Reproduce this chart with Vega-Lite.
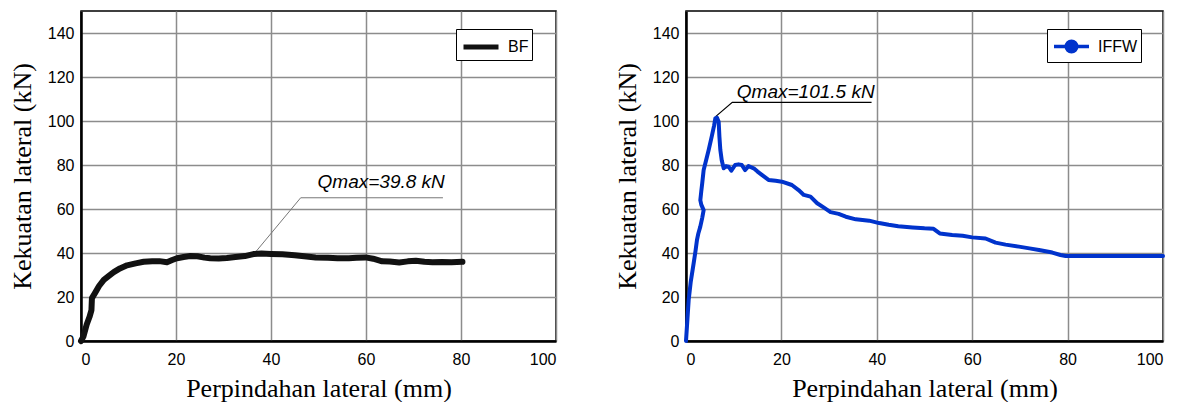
{
  "$schema": "https://vega.github.io/schema/vega-lite/v6.json",
  "background": "white",
  "padding": {"left": 8, "top": 10, "right": 0, "bottom": 0},
  "bounds": "flush",
  "spacing": 130,
  "datasets": {
    "bf": [
      {"series": "BF", "i": 0, "x": 0, "y": 0},
      {"series": "BF", "i": 1, "x": 0.5, "y": 2},
      {"series": "BF", "i": 2, "x": 1.2, "y": 7.5},
      {"series": "BF", "i": 3, "x": 1.8, "y": 11},
      {"series": "BF", "i": 4, "x": 2.2, "y": 14},
      {"series": "BF", "i": 5, "x": 2.3, "y": 19.5},
      {"series": "BF", "i": 6, "x": 3.0, "y": 22},
      {"series": "BF", "i": 7, "x": 3.8, "y": 25},
      {"series": "BF", "i": 8, "x": 4.8, "y": 27.8},
      {"series": "BF", "i": 9, "x": 5.8, "y": 29.5},
      {"series": "BF", "i": 10, "x": 6.9, "y": 31.3},
      {"series": "BF", "i": 11, "x": 8.2, "y": 33},
      {"series": "BF", "i": 12, "x": 9.7, "y": 34.4},
      {"series": "BF", "i": 13, "x": 11.5, "y": 35.3},
      {"series": "BF", "i": 14, "x": 13.2, "y": 36},
      {"series": "BF", "i": 15, "x": 15, "y": 36.3},
      {"series": "BF", "i": 16, "x": 16.5, "y": 36.3},
      {"series": "BF", "i": 17, "x": 18.1, "y": 35.8},
      {"series": "BF", "i": 18, "x": 19.2, "y": 36.8},
      {"series": "BF", "i": 19, "x": 20.2, "y": 37.6},
      {"series": "BF", "i": 20, "x": 21.6, "y": 38.2},
      {"series": "BF", "i": 21, "x": 23, "y": 38.6},
      {"series": "BF", "i": 22, "x": 24.5, "y": 38.5},
      {"series": "BF", "i": 23, "x": 26, "y": 37.9},
      {"series": "BF", "i": 24, "x": 27.2, "y": 37.6},
      {"series": "BF", "i": 25, "x": 29, "y": 37.5},
      {"series": "BF", "i": 26, "x": 30.7, "y": 37.7},
      {"series": "BF", "i": 27, "x": 32.5, "y": 38.2},
      {"series": "BF", "i": 28, "x": 34.5, "y": 38.6},
      {"series": "BF", "i": 29, "x": 36.3, "y": 39.5},
      {"series": "BF", "i": 30, "x": 38, "y": 39.8},
      {"series": "BF", "i": 31, "x": 40, "y": 39.6},
      {"series": "BF", "i": 32, "x": 42.4, "y": 39.4},
      {"series": "BF", "i": 33, "x": 45, "y": 39},
      {"series": "BF", "i": 34, "x": 47, "y": 38.5},
      {"series": "BF", "i": 35, "x": 49.4, "y": 38},
      {"series": "BF", "i": 36, "x": 52, "y": 37.8},
      {"series": "BF", "i": 37, "x": 54, "y": 37.6},
      {"series": "BF", "i": 38, "x": 56.4, "y": 37.6},
      {"series": "BF", "i": 39, "x": 58, "y": 37.8},
      {"series": "BF", "i": 40, "x": 59.9, "y": 38},
      {"series": "BF", "i": 41, "x": 61.5, "y": 37.4},
      {"series": "BF", "i": 42, "x": 63.4, "y": 36.2},
      {"series": "BF", "i": 43, "x": 65, "y": 36.1},
      {"series": "BF", "i": 44, "x": 67, "y": 35.7},
      {"series": "BF", "i": 45, "x": 68.8, "y": 36.2},
      {"series": "BF", "i": 46, "x": 70.5, "y": 36.5},
      {"series": "BF", "i": 47, "x": 72.3, "y": 36},
      {"series": "BF", "i": 48, "x": 74, "y": 35.8},
      {"series": "BF", "i": 49, "x": 76, "y": 35.9},
      {"series": "BF", "i": 50, "x": 78, "y": 35.8},
      {"series": "BF", "i": 51, "x": 80.3, "y": 36}
    ],
    "iffw": [
      {"series": "IFFW", "i": 0, "x": 0, "y": 0},
      {"series": "IFFW", "i": 1, "x": 0.3, "y": 10},
      {"series": "IFFW", "i": 2, "x": 0.56, "y": 18.6},
      {"series": "IFFW", "i": 3, "x": 1.0, "y": 27},
      {"series": "IFFW", "i": 4, "x": 1.6, "y": 35.3},
      {"series": "IFFW", "i": 5, "x": 2.0, "y": 41},
      {"series": "IFFW", "i": 6, "x": 2.3, "y": 45.9},
      {"series": "IFFW", "i": 7, "x": 2.6, "y": 49},
      {"series": "IFFW", "i": 8, "x": 3.0, "y": 52},
      {"series": "IFFW", "i": 9, "x": 3.4, "y": 56},
      {"series": "IFFW", "i": 10, "x": 3.7, "y": 59.5},
      {"series": "IFFW", "i": 11, "x": 3.2, "y": 62},
      {"series": "IFFW", "i": 12, "x": 3.0, "y": 64},
      {"series": "IFFW", "i": 13, "x": 3.2, "y": 68},
      {"series": "IFFW", "i": 14, "x": 3.4, "y": 71.7},
      {"series": "IFFW", "i": 15, "x": 3.7, "y": 77.7},
      {"series": "IFFW", "i": 16, "x": 4.2, "y": 82},
      {"series": "IFFW", "i": 17, "x": 4.75, "y": 86.8},
      {"series": "IFFW", "i": 18, "x": 5.4, "y": 93},
      {"series": "IFFW", "i": 19, "x": 5.9, "y": 98},
      {"series": "IFFW", "i": 20, "x": 6.15, "y": 101.2},
      {"series": "IFFW", "i": 21, "x": 6.5, "y": 101.5},
      {"series": "IFFW", "i": 22, "x": 6.85, "y": 99.7},
      {"series": "IFFW", "i": 23, "x": 7.0, "y": 93},
      {"series": "IFFW", "i": 24, "x": 7.2, "y": 86.8},
      {"series": "IFFW", "i": 25, "x": 7.5, "y": 82},
      {"series": "IFFW", "i": 26, "x": 7.9, "y": 78.5},
      {"series": "IFFW", "i": 27, "x": 8.4, "y": 79.5},
      {"series": "IFFW", "i": 28, "x": 8.95, "y": 79.2},
      {"series": "IFFW", "i": 29, "x": 9.5, "y": 77.4},
      {"series": "IFFW", "i": 30, "x": 10.3, "y": 80},
      {"series": "IFFW", "i": 31, "x": 11, "y": 80.3},
      {"series": "IFFW", "i": 32, "x": 11.7, "y": 80},
      {"series": "IFFW", "i": 33, "x": 12.4, "y": 77.7},
      {"series": "IFFW", "i": 34, "x": 13.1, "y": 79.5},
      {"series": "IFFW", "i": 35, "x": 14.2, "y": 78.5},
      {"series": "IFFW", "i": 36, "x": 15, "y": 77},
      {"series": "IFFW", "i": 37, "x": 15.9, "y": 75.5},
      {"series": "IFFW", "i": 38, "x": 17.3, "y": 73.2},
      {"series": "IFFW", "i": 39, "x": 18.8, "y": 72.8},
      {"series": "IFFW", "i": 40, "x": 20.1, "y": 72.4},
      {"series": "IFFW", "i": 41, "x": 22.2, "y": 70.9},
      {"series": "IFFW", "i": 42, "x": 23.6, "y": 68.6},
      {"series": "IFFW", "i": 43, "x": 24.7, "y": 66.4},
      {"series": "IFFW", "i": 44, "x": 26.1, "y": 65.6},
      {"series": "IFFW", "i": 45, "x": 27.5, "y": 62.6},
      {"series": "IFFW", "i": 46, "x": 29, "y": 60.5},
      {"series": "IFFW", "i": 47, "x": 30.3, "y": 58.6},
      {"series": "IFFW", "i": 48, "x": 32, "y": 57.8},
      {"series": "IFFW", "i": 49, "x": 33.5, "y": 56.5},
      {"series": "IFFW", "i": 50, "x": 35.6, "y": 55.3},
      {"series": "IFFW", "i": 51, "x": 38.4, "y": 54.7},
      {"series": "IFFW", "i": 52, "x": 40.5, "y": 53.6},
      {"series": "IFFW", "i": 53, "x": 42.5, "y": 52.8},
      {"series": "IFFW", "i": 54, "x": 44.5, "y": 52.2},
      {"series": "IFFW", "i": 55, "x": 47.5, "y": 51.6},
      {"series": "IFFW", "i": 56, "x": 50, "y": 51.2},
      {"series": "IFFW", "i": 57, "x": 51.9, "y": 51},
      {"series": "IFFW", "i": 58, "x": 53.2, "y": 48.9},
      {"series": "IFFW", "i": 59, "x": 55.8, "y": 48.2},
      {"series": "IFFW", "i": 60, "x": 58, "y": 47.8},
      {"series": "IFFW", "i": 61, "x": 60, "y": 47.1},
      {"series": "IFFW", "i": 62, "x": 62.8, "y": 46.6},
      {"series": "IFFW", "i": 63, "x": 64.9, "y": 44.7},
      {"series": "IFFW", "i": 64, "x": 67, "y": 43.8},
      {"series": "IFFW", "i": 65, "x": 69.8, "y": 42.9},
      {"series": "IFFW", "i": 66, "x": 72, "y": 42.1},
      {"series": "IFFW", "i": 67, "x": 74, "y": 41.4},
      {"series": "IFFW", "i": 68, "x": 76.8, "y": 40.2},
      {"series": "IFFW", "i": 69, "x": 78.5, "y": 39.1},
      {"series": "IFFW", "i": 70, "x": 79.6, "y": 38.6},
      {"series": "IFFW", "i": 71, "x": 100, "y": 38.6}
    ],
    "bfLeader": [
      {"i": 0, "x": 36.5, "y": 39.8},
      {"i": 1, "x": 46.25, "y": 65.1},
      {"i": 2, "x": 76.2, "y": 65.1}
    ],
    "iffwLeader": [
      {"i": 0, "x": 6.2, "y": 102},
      {"i": 1, "x": 9.7, "y": 108.5},
      {"i": 2, "x": 38.9, "y": 108.5}
    ],
    "bfLabel": [{"x": 63.2, "y": 72.3, "label": "Qmax=39.8 kN"}],
    "iffwLabel": [{"x": 25.1, "y": 113.3, "label": "Qmax=101.5 kN"}]
  },
  "config": {
    "font": "Liberation Sans",
    "view": {"stroke": "black", "strokeWidth": 1.5},
    "axis": {
      "grid": true,
      "gridColor": "#8c8c8c",
      "gridWidth": 1.5,
      "domainColor": "black",
      "domainWidth": 2.5,
      "ticks": false,
      "labelFont": "Liberation Sans",
      "labelFontSize": 16,
      "labelColor": "black",
      "titleFont": "Liberation Serif",
      "titleFontSize": 26,
      "titleFontWeight": "normal",
      "titleColor": "black"
    },
    "axisX": {"labelPadding": 10, "titlePadding": 8},
    "axisY": {"labelPadding": 7, "titlePadding": 12},
    "legend": {
      "strokeColor": "black",
      "fillColor": "white",
      "padding": 3,
      "cornerRadius": 0,
      "labelFont": "Liberation Sans",
      "labelFontSize": 16,
      "labelColor": "black",
      "labelOffset": 12,
      "symbolOffset": 7,
      "title": null
    }
  },
  "resolve": {"scale": {"color": "independent"}, "legend": {"color": "independent"}},
  "hconcat": [
    {
      "width": 475,
      "height": 330,
      "encoding": {
        "x": {"field": "x", "type": "quantitative", "scale": {"domain": [0, 100], "nice": false}, "axis": {"values": [0, 20, 40, 60, 80, 100], "title": "Perpindahan lateral (mm)"}},
        "y": {"field": "y", "type": "quantitative", "scale": {"domain": [0, 150], "nice": false}, "axis": {"values": [0, 20, 40, 60, 80, 100, 120, 140], "title": "Kekuatan lateral (kN)"}},
        "order": {"field": "i", "type": "quantitative"}
      },
      "layer": [
        {
          "data": {"name": "bfLeader"},
          "mark": {"type": "line", "stroke": "#777777", "strokeWidth": 1}
        },
        {
          "data": {"name": "bf"},
          "mark": {"type": "line", "strokeWidth": 6, "strokeCap": "round", "strokeJoin": "round"},
          "encoding": {
            "color": {"field": "series", "type": "nominal", "scale": {"domain": ["BF"], "range": ["#111111"]},
              "legend": {"orient": "none", "legendX": 375, "legendY": 18, "title": null, "symbolType": "M-1.4,0H1.4", "symbolSize": 625, "symbolStrokeWidth": 5, "symbolStrokeColor": "#111111"}}
          }
        },
        {
          "data": {"name": "bfLabel"},
          "mark": {"type": "text", "font": "Liberation Sans", "fontStyle": "italic", "fontSize": 19, "align": "center", "baseline": "middle", "color": "black"},
          "encoding": {"text": {"field": "label"}}
        }
      ]
    },
    {
      "width": 477,
      "height": 330,
      "encoding": {
        "x": {"field": "x", "type": "quantitative", "scale": {"domain": [0, 100], "nice": false}, "axis": {"values": [0, 20, 40, 60, 80, 100], "title": "Perpindahan lateral (mm)"}},
        "y": {"field": "y", "type": "quantitative", "scale": {"domain": [0, 150], "nice": false}, "axis": {"values": [0, 20, 40, 60, 80, 100, 120, 140], "title": "Kekuatan lateral (kN)"}},
        "order": {"field": "i", "type": "quantitative"}
      },
      "layer": [
        {
          "data": {"name": "iffwLeader"},
          "mark": {"type": "line", "stroke": "black", "strokeWidth": 1.2}
        },
        {
          "data": {"name": "iffw"},
          "mark": {"type": "line", "strokeWidth": 4, "strokeCap": "round", "strokeJoin": "round"},
          "encoding": {
            "color": {"field": "series", "type": "nominal", "scale": {"domain": ["IFFW"], "range": ["#0033cc"]},
              "legend": {"orient": "none", "legendX": 361, "legendY": 18, "title": null, "symbolType": "M-1.4,0H1.4M0.42,0A0.42,0.42,0,1,1,-0.42,0A0.42,0.42,0,1,1,0.42,0Z", "symbolSize": 625, "symbolStrokeWidth": 3.5, "symbolStrokeColor": "#0033cc", "symbolFillColor": "#0033cc"}}
          }
        },
        {
          "data": {"name": "iffwLabel"},
          "mark": {"type": "text", "font": "Liberation Sans", "fontStyle": "italic", "fontSize": 19, "align": "center", "baseline": "middle", "color": "black"},
          "encoding": {"text": {"field": "label"}}
        }
      ]
    }
  ]
}
